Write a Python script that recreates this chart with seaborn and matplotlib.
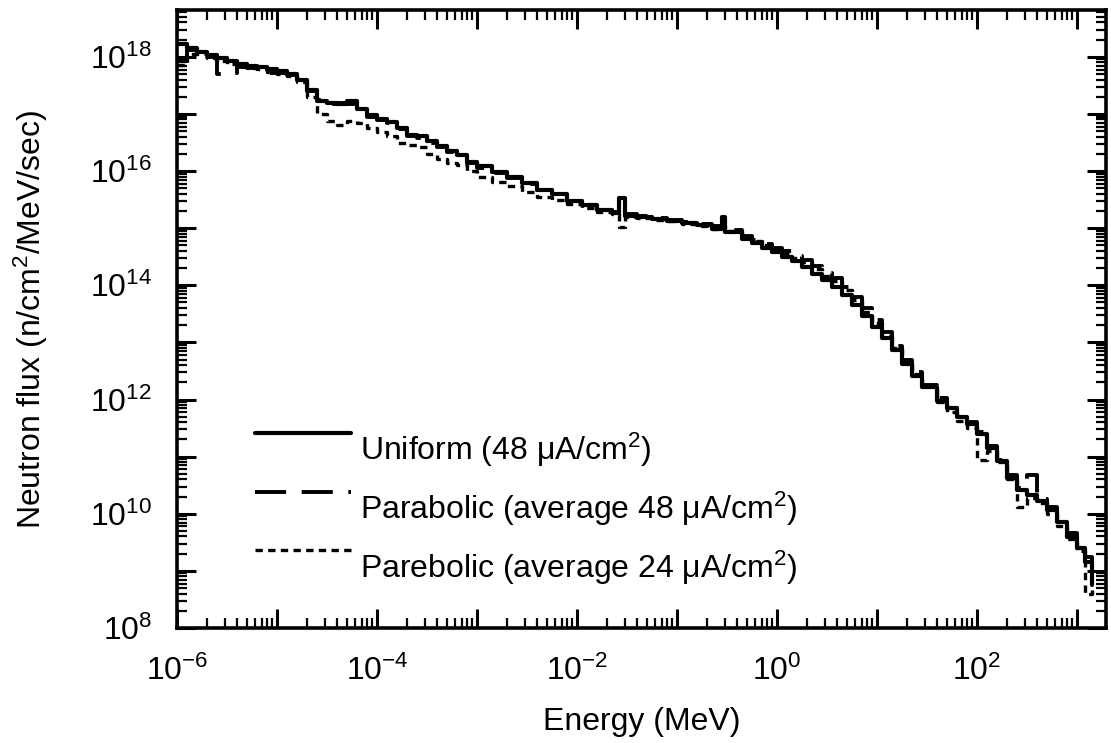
import numpy as np
import pandas as pd
import matplotlib
matplotlib.use("Agg")
import matplotlib.pyplot as plt
from matplotlib.ticker import LogLocator, FuncFormatter, NullFormatter
from matplotlib.legend_handler import HandlerLine2D
import seaborn as sns

# ---- data (log10 of energy bin edges in MeV, log10 of flux) ----
log_energy = [-6.00, -5.90, -5.80, -5.70, -5.60, -5.50, -5.40, -5.30, -5.20, -5.10,
              -5.00, -4.90, -4.80, -4.70, -4.60, -4.50, -4.40, -4.30, -4.20, -4.10,
              -4.00, -3.90, -3.80, -3.70, -3.60, -3.50, -3.40, -3.30, -3.20, -3.10,
              -3.00, -2.85, -2.70, -2.55, -2.40, -2.25, -2.10, -1.95, -1.80, -1.65,
              -1.58, -1.52, -1.40, -1.25, -1.10, -0.95, -0.80, -0.65, -0.55, -0.52,
              -0.35, -0.25, -0.15, -0.05, 0.05, 0.15, 0.25, 0.35, 0.45, 0.55,
              0.65, 0.75, 0.85, 0.95, 1.05, 1.15, 1.25, 1.35, 1.45, 1.60,
              1.70, 1.80, 1.90, 2.00, 2.10, 2.20, 2.30, 2.40, 2.50, 2.60,
              2.70, 2.80, 2.90, 3.00, 3.08, 3.15]

log_flux_uniform = [18.22, 18.15, 18.08, 18.03, 17.98, 17.93, 17.88, 17.84, 17.82, 17.78,
                    17.75, 17.70, 17.60, 17.42, 17.22, 17.20, 17.18, 17.22, 17.08, 16.98,
                    16.92, 16.86, 16.76, 16.64, 16.62, 16.52, 16.44, 16.36, 16.28, 16.16,
                    16.08, 15.98, 15.90, 15.79, 15.67, 15.59, 15.48, 15.40, 15.31, 15.26,
                    15.52, 15.22, 15.19, 15.16, 15.13, 15.09, 15.05, 14.99, 15.20, 14.93,
                    14.81, 14.74, 14.66, 14.58, 14.50, 14.42, 14.32, 14.20, 14.09, 13.97,
                    13.83, 13.66, 13.46, 13.27, 13.08, 12.86, 12.63, 12.42, 12.22, 11.98,
                    11.86, 11.70, 11.58, 11.40, 11.15, 10.92, 10.62, 10.42, 10.32, 10.22,
                    10.06, 9.86, 9.60, 9.40, 9.15, 8.75]

log_flux_parab48 = [17.95, 18.12, 18.06, 18.00, 17.70, 17.72, 17.82, 17.80, 17.78, 17.72,
                    17.72, 17.68, 17.58, 17.40, 17.25, 17.18, 17.20, 17.18, 17.05, 16.95,
                    16.90, 16.84, 16.74, 16.62, 16.58, 16.50, 16.42, 16.34, 16.26, 16.14,
                    16.06, 15.96, 15.88, 15.77, 15.66, 15.58, 15.48, 15.40, 15.32, 15.28,
                    15.47, 15.24, 15.21, 15.18, 15.15, 15.11, 15.08, 15.03, 15.10, 14.97,
                    14.87, 14.80, 14.72, 14.66, 14.60, 14.52, 14.44, 14.33, 14.22, 14.12,
                    13.97, 13.80, 13.60, 13.40, 13.18, 12.94, 12.70, 12.48, 12.26, 12.02,
                    11.86, 11.74, 11.60, 11.44, 11.18, 10.95, 10.68, 10.45, 10.68, 10.25,
                    10.12, 9.92, 9.66, 9.45, 9.25, 8.80]

log_flux_parab24 = [17.85, 18.05, 18.05, 17.98, 17.92, 17.88, 17.84, 17.80, 17.78, 17.74,
                    17.70, 17.66, 17.56, 17.30, 17.00, 16.88, 16.80, 16.88, 16.84, 16.75,
                    16.68, 16.62, 16.50, 16.45, 16.42, 16.30, 16.22, 16.15, 16.10, 16.00,
                    15.90, 15.80, 15.74, 15.63, 15.55, 15.50, 15.42, 15.36, 15.29, 15.24,
                    15.02, 15.20, 15.17, 15.15, 15.12, 15.08, 15.04, 14.98, 15.03, 14.95,
                    14.84, 14.77, 14.70, 14.63, 14.56, 14.48, 14.40, 14.28, 14.16, 14.07,
                    13.92, 13.75, 13.54, 13.34, 13.12, 12.90, 12.66, 12.45, 12.24, 11.95,
                    11.78, 11.62, 11.50, 10.95, 11.10, 10.90, 10.60, 10.12, 10.28, 10.18,
                    10.00, 9.78, 9.55, 9.35, 8.60, 8.70]

series_labels = [r"Uniform (48 $\mu$A/cm$^{2}$)",
                 r"Parabolic (average 48 $\mu$A/cm$^{2}$)",
                 r"Parebolic (average 24 $\mu$A/cm$^{2}$)"]

energy = 10 ** np.array(log_energy)
flux_u = 10 ** np.array(log_flux_uniform)
flux_p48 = 10 ** np.array(log_flux_parab48)
flux_p24 = 10 ** np.array(log_flux_parab24)

# ---- style ----
sns.set_theme(style="ticks")
plt.rcParams["font.family"] = ["Liberation Sans", "DejaVu Sans"]
plt.rcParams["mathtext.fontset"] = "custom"
plt.rcParams["mathtext.rm"] = "Liberation Sans"
plt.rcParams["mathtext.it"] = "Liberation Sans"
plt.rcParams["mathtext.default"] = "regular"
plt.rcParams["axes.unicode_minus"] = False
for k in ["text.color", "axes.labelcolor", "xtick.color", "ytick.color", "axes.edgecolor"]:
    plt.rcParams[k] = "black"

FS = 23

fig = plt.figure(figsize=(11.11, 7.43), dpi=100)
ax = fig.add_axes([177 / 1111, 1 - 628 / 743, 929 / 1111, 618 / 743])

sns.lineplot(x=energy, y=flux_p24, ax=ax, color="black", lw=2.4,
             drawstyle="steps-post", estimator=None, sort=False,
             label=series_labels[2], dashes=False, linestyle=(0, (2.2, 1.6)))
sns.lineplot(x=energy, y=flux_p48, ax=ax, color="black", lw=2.8,
             drawstyle="steps-post", estimator=None, sort=False,
             label=series_labels[1], dashes=False, linestyle=(0, (8, 4)))
sns.lineplot(x=energy, y=flux_u, ax=ax, color="black", lw=3.0,
             drawstyle="steps-post", estimator=None, sort=False,
             label=series_labels[0], dashes=False, linestyle="-")

ax.set_xscale("log")
ax.set_yscale("log")
ax.set_xlim(1e-6, 10 ** 3.29)
ax.set_ylim(1e8, 10 ** 18.82)


def even_exp(v, pos):
    e = int(round(np.log10(v)))
    if e % 2 == 0:
        return r"$10^{%d}$" % e
    return ""


for axis in (ax.xaxis, ax.yaxis):
    axis.set_major_locator(LogLocator(base=10, numticks=30))
    axis.set_minor_locator(LogLocator(base=10, subs=np.arange(2, 10), numticks=300))
    axis.set_major_formatter(FuncFormatter(even_exp))
    axis.set_minor_formatter(NullFormatter())

ax.tick_params(which="both", direction="in", top=True, right=True, colors="black",
               labelsize=FS)
ax.tick_params(which="major", length=14, width=2.2)
ax.tick_params(which="minor", length=7, width=1.6)
ax.tick_params(axis="y", pad=18)
ax.tick_params(axis="x", pad=20)

for s in ax.spines.values():
    s.set_linewidth(2.6)
    s.set_color("black")
    s.set_visible(True)

ax.set_xlabel("Energy (MeV)", fontsize=FS)
ax.set_ylabel(r"Neutron flux (n/cm$^{2}$/MeV/sec)", fontsize=FS)
ax.xaxis.set_label_coords(0.5, -0.128)
ax.yaxis.set_label_coords(-0.137, 0.5)


class RaisedLine(HandlerLine2D):
    """Legend handle drawn a little above the centre of its label."""

    def __init__(self, dy, **kw):
        super().__init__(**kw)
        self.dy = dy

    def create_artists(self, legend, orig_handle, xdescent, ydescent, width,
                       height, fontsize, trans):
        arts = super().create_artists(legend, orig_handle, xdescent, ydescent,
                                      width, height, fontsize, trans)
        for a in arts:
            a.set_ydata(np.asarray(a.get_ydata(), dtype=float) + self.dy)
        return arts


handles, labels = ax.get_legend_handles_labels()
order = [labels.index(l) for l in series_labels]
ax.legend([handles[i] for i in order], [labels[i] for i in order],
          loc="upper left", bbox_to_anchor=(0.084, 0.319), frameon=False,
          fontsize=FS, handlelength=3.0, handletextpad=0.3, labelspacing=0.64,
          borderpad=0, borderaxespad=0,
          handler_map={h: RaisedLine(11.5) for h in handles})

ax.grid(False)
fig.savefig("out.png", dpi=100)
